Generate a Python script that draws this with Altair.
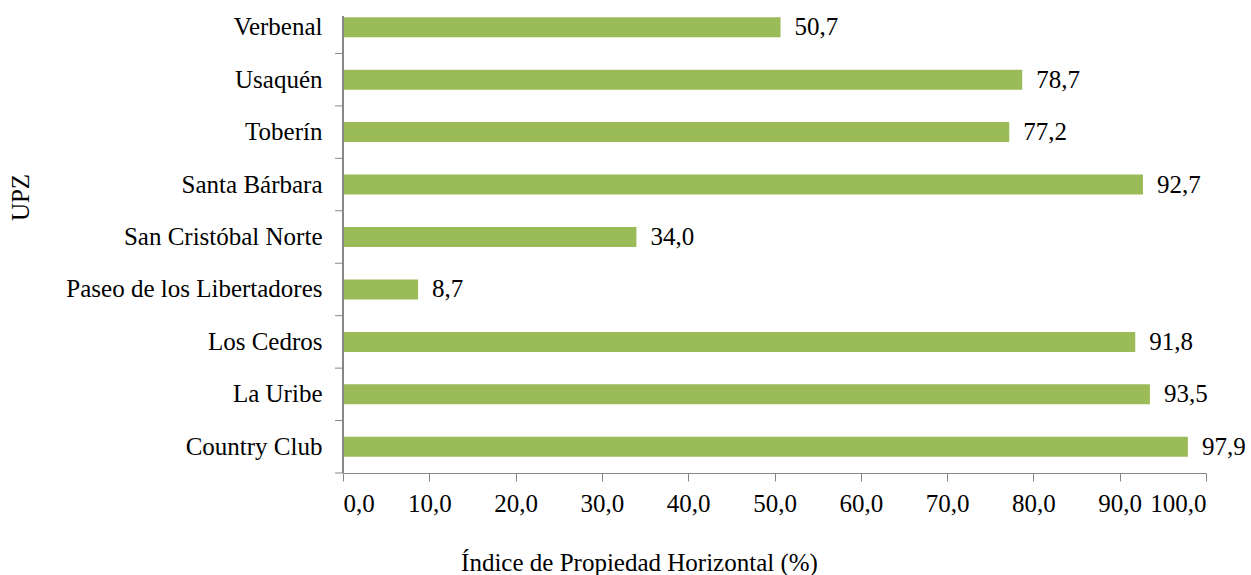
import altair as alt
import pandas as pd

upz = ["Verbenal", "Usaquén", "Toberín", "Santa Bárbara", "San Cristóbal Norte",
       "Paseo de los Libertadores", "Los Cedros", "La Uribe", "Country Club"]
indice = [50.7, 78.7, 77.2, 92.7, 34.0, 8.7, 91.8, 93.5, 97.9]
x_ticks = [0, 10, 20, 30, 40, 50, 60, 70, 80, 90, 100]

df = pd.DataFrame({"upz": upz, "indice": indice})

FONT = "Times New Roman, Tinos, Liberation Serif, Noto Serif, DejaVu Serif, serif"
FS = 25
GREEN = "#9BBB59"
GRAY = "#868686"
W, H = 863, 472

y_enc = alt.Y("upz:N", sort=upz,
              scale=alt.Scale(paddingInner=0, paddingOuter=0),
              axis=alt.Axis(title="UPZ", domain=False, ticks=False,
                            labelFont=FONT, labelFontSize=FS, labelColor="black",
                            labelPadding=21, labelLimit=400,
                            titleFont=FONT, titleFontSize=FS, titleFontWeight="normal",
                            titleColor="black", titleAngle=270, titleAlign="center",
                            titleBaseline="middle", titleX=-323, titleY=196))

x_scale = alt.Scale(domain=[0, 100], nice=False, zero=True)

bars = alt.Chart(df).mark_bar(color=GREEN, size=20).encode(
    x=alt.X("indice:Q", scale=x_scale,
            axis=alt.Axis(title="Índice de Propiedad Horizontal (%)", values=x_ticks,
                          format=".1f", grid=False, domainColor=GRAY, tickColor=GRAY,
                          tickSize=8, labelFont=FONT, labelFontSize=FS,
                          labelColor="black", labelPadding=10,
                          titleFont=FONT, titleFontSize=FS, titleFontWeight="normal",
                          titleColor="black", titleAlign="center",
                          titleBaseline="alphabetic", titleX=296, titleY=97)),
    y=y_enc,
)

labels = alt.Chart(df).mark_text(align="left", baseline="middle", dx=14,
                                 font=FONT, fontSize=FS, color="black").encode(
    x=alt.X("indice:Q", scale=x_scale),
    y=alt.Y("upz:N", sort=upz),
    text=alt.Text("indice:Q", format=".1f"),
)

ytick = alt.Chart(df).mark_rule(color=GRAY, strokeWidth=1).encode(
    x=alt.value(-8), x2=alt.value(0),
    y=alt.Y("upz:N", sort=upz, bandPosition=1),
)

yline = alt.Chart(df).mark_rule(color=GRAY, strokeWidth=1).encode(
    x=alt.value(0), y=alt.value(15), y2=alt.value(H),
)

chart = alt.layer(bars, labels, ytick, yline).properties(
    width=W, height=H,
    autosize=alt.AutoSizeParams(type="none"),
    padding={"left": 343, "top": 1, "right": 45, "bottom": 102},
).configure(background="white", font=FONT).configure_view(stroke=None)

chart.save("out.html", embed_options={
    "renderer": "svg", "actions": False,
    "formatLocale": {"decimal": ",", "thousands": ".", "grouping": [3],
                     "currency": ["", " €"]},
})
